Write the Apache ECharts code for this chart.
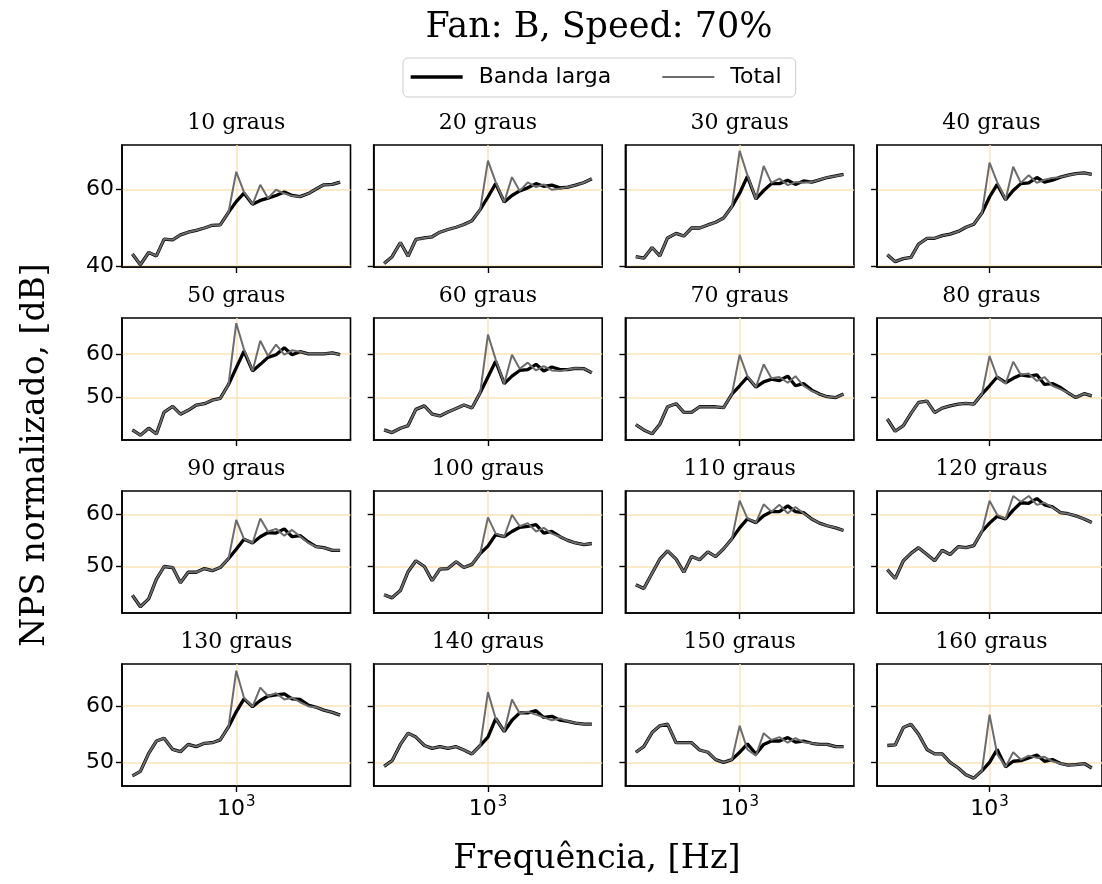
<!DOCTYPE html>
<html><head><meta charset="utf-8">
<script src="https://cdn.jsdelivr.net/npm/echarts@6/dist/echarts.min.js"></script>
<style>html,body{margin:0;padding:0;background:#fff}#c{width:1102px;height:884px}</style>
</head><body><div id="c"></div>
<script>
// ---------- DATA ----------
const freqs = [50,63,80,100,125,160,200,250,315,400,500,630,800,1000,1250,1600,2000,2500,3150,4000,5000,6300,8000,10000,12500,16000,20000];
const panelTitles = ['10 graus','20 graus','30 graus','40 graus','50 graus','60 graus','70 graus','80 graus','90 graus','100 graus','110 graus','120 graus','130 graus','140 graus','150 graus','160 graus'];
const seriesNames = ['Banda larga','Total'];
const xTickValues = [1000];
const xTickBase = ['10'];
const xTickExp = ['3'];
const yTicksRow = [[40,60],[50,60],[50,60],[50,60]];
const yMinRow = [39.7,40.3,41.1,45.8];
const yMaxRow = [71.6,68.2,64.45,67.5];

const total10 = [43.1,40.3,43.5,42.6,47.0,46.8,48.1,48.8,49.3,49.9,50.6,50.7,54.0,64.6,59.3,56.1,61.2,57.7,59.9,58.9,58.3,58.1,58.9,60.1,61.2,61.3,61.9];
const banda10 = [43.1,40.3,43.5,42.6,47.0,46.8,48.1,48.8,49.3,49.9,50.6,50.7,54.0,56.8,59.0,56.1,57.1,57.7,58.4,59.3,58.4,58.1,58.9,60.1,61.2,61.3,61.9];
const total20 = [40.6,42.4,46.1,42.5,46.9,47.3,47.6,48.8,49.5,50.1,50.8,51.8,54.7,67.5,61.9,56.7,63.2,59.6,61.8,60.6,61.3,59.9,60.2,60.6,61.1,61.8,62.8];
const banda20 = [40.6,42.4,46.1,42.5,46.9,47.3,47.6,48.8,49.5,50.1,50.8,51.8,54.7,58.0,61.5,56.7,58.4,59.6,60.4,61.5,60.8,61.1,60.4,60.6,61.1,61.8,62.8];
const total30 = [42.4,42.0,44.8,42.6,47.3,48.5,47.8,49.9,49.9,50.7,51.4,52.5,55.5,70.1,63.7,57.5,66.1,61.7,62.8,61.1,61.9,61.7,61.9,62.5,63.1,63.5,63.9];
const banda30 = [42.4,42.0,44.8,42.6,47.3,48.5,47.8,49.9,49.9,50.7,51.4,52.5,55.5,59.0,63.4,57.5,59.7,61.5,61.5,62.4,61.3,62.2,61.9,62.5,63.1,63.5,63.9];
const total40 = [42.9,41.1,41.9,42.2,45.7,47.2,47.2,47.9,48.3,49.0,50.1,50.9,53.8,67.0,61.9,57.3,65.9,61.7,63.7,61.7,62.5,63.0,63.2,63.7,64.1,64.3,63.9];
const banda40 = [42.9,41.1,41.9,42.2,45.7,47.2,47.2,47.9,48.3,49.0,50.1,50.9,53.8,58.0,61.3,57.3,59.7,61.5,61.7,63.1,61.9,62.4,63.2,63.7,64.1,64.3,63.9];
const total50 = [42.6,41.4,43.0,41.7,46.7,48.0,46.2,47.1,48.3,48.6,49.4,49.8,53.0,67.0,61.0,56.1,63.0,59.5,62.1,59.8,60.8,60.5,60.0,60.0,60.0,60.2,59.8];
const banda50 = [42.6,41.4,43.0,41.7,46.7,48.0,46.2,47.1,48.3,48.6,49.4,49.8,53.0,56.8,60.6,56.1,57.6,59.2,59.8,61.4,59.8,60.5,60.0,60.0,60.0,60.2,59.8];
const total60 = [42.6,42.0,43.0,43.6,47.3,48.1,46.2,45.8,46.7,47.5,48.3,47.6,51.1,64.4,58.7,53.2,59.8,56.6,58.0,56.2,57.2,56.2,56.1,56.4,56.7,56.6,55.7];
const banda60 = [42.6,42.0,43.0,43.6,47.3,48.1,46.2,45.8,46.7,47.5,48.3,47.6,51.1,54.7,58.3,53.2,54.9,56.2,56.4,57.6,56.1,57.0,56.4,56.4,56.7,56.6,55.7];
const total70 = [43.8,42.6,41.7,43.9,47.9,48.6,46.6,46.6,47.9,47.9,47.9,47.7,50.8,59.8,54.9,52.4,57.6,54.4,54.7,53.4,54.9,52.7,51.5,50.8,50.2,50.0,50.8];
const banda70 = [43.8,42.6,41.7,43.9,47.9,48.6,46.6,46.6,47.9,47.9,47.9,47.7,50.8,52.7,54.7,52.4,53.6,54.2,53.9,54.9,52.7,53.2,51.7,50.8,50.2,50.0,50.8];
const total80 = [45.1,42.3,43.6,46.4,48.9,49.2,46.6,47.6,48.1,48.5,48.7,48.5,50.8,59.5,54.7,53.2,58.2,55.2,55.5,53.8,54.7,52.7,51.9,51.1,50.0,50.9,50.4];
const banda80 = [45.1,42.3,43.6,46.4,48.9,49.2,46.6,47.6,48.1,48.5,48.7,48.5,50.8,52.7,54.7,53.4,54.4,55.2,54.9,55.2,53.0,53.2,52.3,51.1,50.0,50.9,50.4];
const total90 = [44.5,42.3,43.8,47.6,50.0,49.8,46.9,48.9,48.9,49.6,49.2,49.8,51.5,58.9,55.3,54.5,59.2,56.7,57.2,55.9,57.0,55.8,54.5,53.8,53.6,53.1,53.1];
const banda90 = [44.5,42.3,43.8,47.6,50.0,49.8,46.9,48.9,48.9,49.6,49.2,49.8,51.5,53.3,55.2,54.5,55.7,56.5,56.4,57.2,55.7,55.9,54.7,53.8,53.6,53.1,53.1];
const total100 = [44.6,44.0,45.4,49.0,51.1,50.0,47.3,49.5,49.6,50.9,49.8,50.4,52.5,59.4,56.3,55.7,59.9,57.7,58.3,56.7,57.4,56.3,55.7,55.0,54.5,54.2,54.4];
const banda100 = [44.6,44.0,45.4,49.0,51.1,50.0,47.3,49.5,49.6,50.9,49.8,50.4,52.5,53.9,56.1,55.7,56.7,57.5,57.7,58.0,56.4,56.7,55.7,55.0,54.5,54.2,54.4];
const total110 = [46.5,45.8,48.7,51.4,53.0,51.4,48.9,51.9,51.3,52.8,51.9,53.4,55.3,62.6,59.2,58.4,61.9,60.5,61.8,60.2,61.4,60.2,59.1,58.3,57.8,57.4,56.9];
const banda110 = [46.5,45.8,48.7,51.4,53.0,51.4,48.9,51.9,51.3,52.8,51.9,53.4,55.3,57.4,59.1,58.4,59.7,60.5,60.5,61.6,60.5,60.3,59.1,58.3,57.8,57.4,56.9];
const total120 = [49.4,47.7,51.1,52.5,53.6,52.3,51.1,53.1,52.3,53.8,53.6,54.0,56.7,62.6,59.9,59.1,63.5,62.4,63.5,61.8,62.2,61.3,60.3,60.1,59.7,59.1,58.4];
const banda120 = [49.4,47.7,51.1,52.5,53.6,52.3,51.1,53.1,52.3,53.8,53.6,54.0,56.7,58.3,59.6,59.1,60.8,62.2,62.1,63.0,61.8,61.4,60.3,60.1,59.7,59.1,58.4];
const total130 = [47.6,48.4,51.6,53.8,54.3,52.3,51.9,53.2,52.8,53.4,53.5,54.0,56.3,66.3,61.5,59.9,63.3,61.8,62.3,61.2,61.5,60.7,60.0,59.8,59.3,58.9,58.4];
const banda130 = [47.6,48.4,51.6,53.8,54.3,52.3,51.9,53.2,52.8,53.4,53.5,54.0,56.3,59.0,61.3,59.9,61.0,61.8,62.0,62.2,61.3,61.2,60.2,59.8,59.3,58.9,58.4];
const total140 = [49.3,50.3,53.2,55.2,54.5,53.0,52.5,52.8,52.5,52.8,52.2,51.5,53.0,62.5,57.8,55.5,61.2,58.7,59.0,58.5,58.0,57.5,57.8,57.3,57.0,56.8,56.8];
const banda140 = [49.3,50.3,53.2,55.2,54.5,53.0,52.5,52.8,52.5,52.8,52.2,51.5,53.0,54.5,57.8,55.5,57.5,58.8,58.8,59.2,58.0,58.2,57.5,57.3,57.0,56.8,56.8];
const total150 = [51.8,52.8,55.3,56.5,56.8,53.5,53.5,53.5,52.2,51.8,50.5,50.0,50.5,56.5,52.3,51.2,55.2,54.0,54.5,53.5,54.3,53.6,53.4,53.2,53.2,52.8,52.8];
const banda150 = [51.8,52.8,55.3,56.5,56.8,53.5,53.5,53.5,52.2,51.8,50.5,50.0,50.5,51.8,53.3,51.5,53.2,53.8,53.8,54.4,53.6,53.8,53.4,53.2,53.2,52.8,52.8];
const total160 = [53.0,53.1,56.2,56.8,55.0,52.3,51.5,51.5,50.0,49.0,47.8,47.2,48.5,58.5,51.5,49.2,51.8,50.5,51.2,50.8,51.0,50.2,49.8,49.5,49.6,49.8,49.0];
const banda160 = [53.0,53.1,56.2,56.8,55.0,52.3,51.5,51.5,50.0,49.0,47.8,47.2,48.5,50.0,52.3,49.2,50.2,50.3,50.8,51.3,50.2,50.5,49.8,49.5,49.6,49.8,49.0];

const bandaAll = [banda10,banda20,banda30,banda40,banda50,banda60,banda70,banda80,banda90,banda100,banda110,banda120,banda130,banda140,banda150,banda160];
const totalAll = [total10,total20,total30,total40,total50,total60,total70,total80,total90,total100,total110,total120,total130,total140,total150,total160];

// ---------- LAYOUT ----------
const rowTop = [145, 318, 491, 664];
const colLeft0 = 122, colStep = 251.7, gW = 228.5, gH = 122;
const xLogMin = Math.pow(10, Math.log10(50) - 0.13);
const xLogMax = Math.pow(10, Math.log10(20000) + 0.13);
const gridColor = '#fde3b6';
const frameW = 1.6;

const grids = [], xAxes = [], yAxes = [], series = [], graphics = [];
panelTitles.forEach((t, i) => {
  const r = Math.floor(i / 4), c = i % 4;
  const left = colLeft0 + colStep * c, top = rowTop[r];
  grids.push({left: left, top: top, width: gW, height: gH, show: true, borderColor: '#000', borderWidth: frameW, backgroundColor: '#fff'});
  xAxes.push({
    type: 'log', logBase: 10, gridIndex: i, min: xLogMin, max: xLogMax,
    axisLine: {show: true, onZero: false, lineStyle: {color: '#000', width: frameW}},
    axisTick: {show: true, customValues: xTickValues, length: 6, lineStyle: {color: '#000', width: 1.4}},
    axisLabel: {show: r === 3, customValues: xTickValues, margin: 4,
      formatter: v => { const k = xTickValues.indexOf(Math.round(v)); return k >= 0 ? '{a|' + xTickBase[k] + '}{b|' + xTickExp[k] + '}' : ''; },
      rich: {
        a: {fontFamily: 'DejaVu Sans', fontSize: 22, color: '#000', verticalAlign: 'bottom', lineHeight: 30},
        b: {fontFamily: 'DejaVu Sans', fontSize: 15, color: '#000', verticalAlign: 'bottom', lineHeight: 30, padding: [0, 0, 10, 1]}
      },
      fontFamily: 'DejaVu Sans', fontSize: 22, color: '#000'},
    splitLine: {show: true, lineStyle: {color: gridColor, width: 1.5}},
    minorTick: {show: false}, minorSplitLine: {show: false}
  });
  yAxes.push({
    type: 'value', gridIndex: i, min: yMinRow[r], max: yMaxRow[r],
    axisLine: {show: true, onZero: false, lineStyle: {color: '#000', width: frameW}},
    axisTick: {show: true, customValues: yTicksRow[r], length: 6, lineStyle: {color: '#000', width: 1.4}},
    axisLabel: {show: c === 0, customValues: yTicksRow[r], margin: 8, fontFamily: 'DejaVu Sans', fontSize: 22, color: '#000'},
    splitLine: {show: true, lineStyle: {color: gridColor, width: 1.5}}
  });
  series.push({
    type: 'line', name: seriesNames[0], xAxisIndex: i, yAxisIndex: i,
    data: freqs.map((f, k) => [f, bandaAll[i][k]]),
    symbol: 'none', showSymbol: false, lineStyle: {color: '#000', width: 3.3}, itemStyle: {color: '#000'}, z: 3, animation: false
  });
  series.push({
    type: 'line', name: seriesNames[1], xAxisIndex: i, yAxisIndex: i,
    data: freqs.map((f, k) => [f, totalAll[i][k]]),
    symbol: 'none', showSymbol: false, lineStyle: {color: '#6c6c6c', width: 2}, itemStyle: {color: '#6c6c6c'}, z: 4, animation: false
  });
  graphics.push({type: 'text', x: left + gW / 2, y: top - 22, z: 10,
    style: {text: t, fontFamily: 'DejaVu Serif', fontSize: 22, fill: '#000', align: 'center', verticalAlign: 'middle', textAlign: 'center', textVerticalAlign: 'middle'}});
});

const centerText = (txt, x, y, size, rot) => ({type: 'text', x: x, y: y, rotation: rot || 0, z: 10,
  style: {text: txt, fontFamily: 'DejaVu Serif', fontSize: size, fill: '#000', align: 'center', verticalAlign: 'middle', textAlign: 'center', textVerticalAlign: 'middle'}});
graphics.push(centerText('Fan: B, Speed: 70%', 599, 28, 35));
graphics.push(centerText('NPS normalizado, [dB]', 35, 455, 33, Math.PI / 2));
graphics.push(centerText('Frequência, [Hz]', 597, 859, 33.5));

const chart = echarts.init(document.getElementById('c'), null, {renderer: 'canvas'});
chart.setOption({
  animation: false,
  backgroundColor: '#fff',
  grid: grids, xAxis: xAxes, yAxis: yAxes, series: series, graphic: graphics,
  legend: {
    left: 403, top: 58, orient: 'horizontal', itemWidth: 52, itemHeight: 14, itemGap: 50,
    padding: [8, 14, 9, 6], borderColor: '#cccccc', borderWidth: 1, borderRadius: 5,
    backgroundColor: '#fff', selectedMode: false,
    textStyle: {fontFamily: 'DejaVu Sans', fontSize: 22, color: '#000', padding: [0, 0, 0, 11]},
    data: [
      {name: seriesNames[0], lineStyle: {color: '#000', width: 3.3}, itemStyle: {opacity: 0}},
      {name: seriesNames[1], lineStyle: {color: '#6c6c6c', width: 2}, itemStyle: {opacity: 0}}
    ]
  }
});
</script></body></html>
